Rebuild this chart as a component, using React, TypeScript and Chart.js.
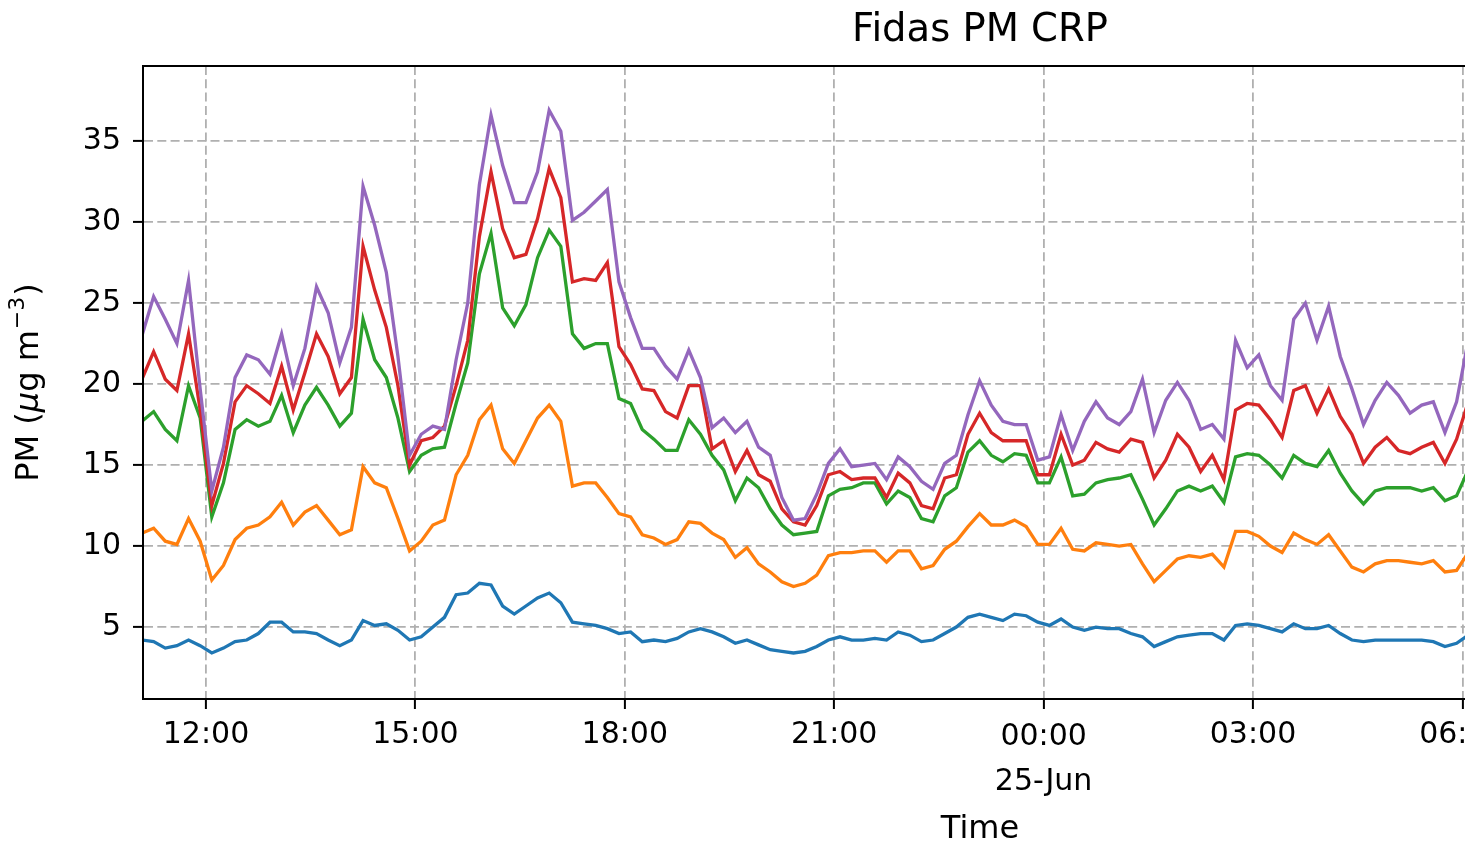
import React, { useEffect, useRef } from "react";
import { Chart, registerables } from "chart.js";

Chart.register(...registerables);

const FONT = "DejaVu Sans";

// Sample times: minutes relative to 12:00 on 24-Jun, every 10 minutes from 11:05
const START_MIN = -55;
const STEP_MIN = 10;

const PM1 = [
  4.2, 4.1, 3.7, 3.85, 4.2, 3.85, 3.4, 3.7, 4.1, 4.2, 4.6, 5.3, 5.3, 4.7, 4.7, 4.6, 4.2, 3.85, 4.2, 5.4,
  5.1, 5.2, 4.8, 4.2, 4.4, 5.0, 5.6, 7.0, 7.1, 7.7, 7.6, 6.3, 5.8, 6.3, 6.8, 7.1, 6.5, 5.3, 5.2,
  5.1, 4.9, 4.6, 4.7, 4.1, 4.2, 4.1, 4.3, 4.7, 4.9, 4.7, 4.4, 4.0, 4.2, 3.9, 3.6, 3.5, 3.4, 3.5,
  3.8, 4.2, 4.4, 4.2, 4.2, 4.3, 4.2, 4.7, 4.5, 4.1, 4.2, 4.6, 5.0, 5.6, 5.8, 5.6, 5.4, 5.8, 5.7,
  5.3, 5.1, 5.5, 5.0, 4.8, 5.0, 4.9, 4.9, 4.6, 4.4, 3.8, 4.1, 4.4, 4.5, 4.6, 4.6, 4.2, 5.1, 5.2,
  5.1, 4.9, 4.7, 5.2, 4.9, 4.9, 5.1, 4.6, 4.2, 4.1, 4.2, 4.2, 4.2, 4.2, 4.2, 4.1, 3.8, 4.0, 4.5,
];

const PM25 = [
  10.8, 11.1, 10.3, 10.1, 11.7, 10.3, 7.9, 8.8, 10.4, 11.1, 11.3, 11.8, 12.7, 11.3, 12.1, 12.5, 11.6, 10.7, 11.0, 14.9,
  13.9, 13.6, 11.7, 9.7, 10.3, 11.3, 11.6, 14.4, 15.6, 17.8, 18.7, 16.0, 15.1, 16.5, 17.9, 18.7, 17.7, 13.7, 13.9,
  13.9, 13.0, 12.0, 11.8, 10.7, 10.5, 10.1, 10.4, 11.5, 11.4, 10.8, 10.4, 9.3, 9.9, 8.9, 8.4, 7.8, 7.5, 7.7,
  8.2, 9.4, 9.6, 9.6, 9.7, 9.7, 9.0, 9.7, 9.7, 8.6, 8.8, 9.8, 10.3, 11.2, 12.0, 11.3, 11.3, 11.6, 11.2,
  10.1, 10.1, 11.1, 9.8, 9.7, 10.2, 10.1, 10.0, 10.1, 8.9, 7.8, 8.5, 9.2, 9.4, 9.3, 9.5, 8.7, 10.9, 10.9,
  10.6, 10.0, 9.6, 10.8, 10.4, 10.1, 10.7, 9.7, 8.7, 8.4, 8.9, 9.1, 9.1, 9.0, 8.9, 9.1, 8.4, 8.5, 9.6,
];

const PM4 = [
  17.7, 18.3, 17.2, 16.5, 19.9, 17.9, 11.8, 13.9, 17.2, 17.8, 17.4, 17.7, 19.3, 17.0, 18.7, 19.8, 18.7, 17.4, 18.2, 24.0,
  21.5, 20.4, 17.9, 14.6, 15.6, 16.0, 16.1, 18.8, 21.3, 26.8, 29.3, 24.7, 23.6, 24.9, 27.8, 29.5, 28.5, 23.1, 22.2,
  22.5, 22.5, 19.1, 18.8, 17.2, 16.6, 15.9, 15.9, 17.8, 16.9, 15.6, 14.7, 12.8, 14.2, 13.6, 12.3, 11.3, 10.7, 10.8,
  10.9, 13.1, 13.5, 13.6, 13.9, 13.9, 12.6, 13.4, 13.0, 11.7, 11.5, 13.1, 13.6, 15.8, 16.5, 15.6, 15.2, 15.7, 15.6,
  13.9, 13.9, 15.5, 13.1, 13.2, 13.9, 14.1, 14.2, 14.4, 12.9, 11.3, 12.3, 13.4, 13.7, 13.4, 13.7, 12.7, 15.5, 15.7,
  15.6, 15.0, 14.2, 15.6, 15.1, 14.9, 15.9, 14.5, 13.4, 12.6, 13.4, 13.6, 13.6, 13.6, 13.4, 13.6, 12.8, 13.1, 14.7,
];

const PM10 = [
  20.3, 22.0, 20.3, 19.6, 23.1, 18.4, 12.5, 15.1, 18.9, 19.9, 19.4, 18.8, 21.1, 18.4, 20.7, 23.1, 21.7, 19.4, 20.4, 28.5,
  25.8, 23.5, 19.9, 15.0, 16.5, 16.7, 17.4, 19.9, 22.7, 29.1, 33.1, 29.6, 27.8, 28.0, 30.2, 33.3, 31.5, 26.3, 26.5,
  26.4, 27.5, 22.3, 21.2, 19.7, 19.6, 18.3, 17.9, 19.9, 19.9, 16.0, 16.5, 14.6, 15.9, 14.4, 14.0, 12.3, 11.5, 11.3,
  12.5, 14.4, 14.6, 14.1, 14.2, 14.2, 13.0, 14.5, 13.9, 12.5, 12.3, 14.2, 14.4, 16.9, 18.2, 17.0, 16.5, 16.5, 16.5,
  14.4, 14.4, 16.9, 15.0, 15.3, 16.4, 16.0, 15.8, 16.6, 16.4, 14.2, 15.3, 16.9, 16.1, 14.6, 15.6, 14.1, 18.4, 18.8,
  18.7, 17.8, 16.7, 19.6, 19.9, 18.2, 19.7, 18.0, 16.9, 15.1, 16.1, 16.7, 15.9, 15.7, 16.1, 16.4, 15.1, 16.6, 18.9,
];

const PMTOT = [
  23.0, 25.4, 24.0, 22.5, 26.4, 19.7, 13.4, 16.1, 20.4, 21.8, 21.5, 20.6, 23.1, 19.9, 22.2, 26.0, 24.4, 21.3, 23.5, 32.2,
  29.8, 26.9, 21.7, 15.6, 16.9, 17.4, 17.2, 21.5, 25.0, 32.3, 36.6, 33.5, 31.2, 31.2, 33.1, 36.9, 35.6, 30.1, 30.6,
  31.3, 32.0, 26.3, 24.1, 22.2, 22.2, 21.1, 20.3, 22.1, 20.4, 17.3, 17.9, 17.0, 17.7, 16.1, 15.6, 13.0, 11.6, 11.7,
  13.2, 15.1, 16.0, 14.9, 15.0, 15.1, 14.1, 15.5, 14.9, 14.0, 13.5, 15.1, 15.6, 18.1, 20.2, 18.7, 17.7, 17.5, 17.5,
  15.3, 15.5, 18.1, 15.9, 17.7, 18.9, 17.9, 17.5, 18.3, 20.3, 17.0, 19.0, 20.1, 19.0, 17.2, 17.5, 16.6, 22.7, 21.0,
  21.8, 19.9, 19.0, 24.0, 25.0, 22.7, 24.8, 21.7, 19.7, 17.5, 19.0, 20.1, 19.3, 18.2, 18.7, 18.9, 17.0, 18.9, 22.7,
];

const SERIES_NAMES = ["PM1", "PM2.5", "PM4", "PM10", "PMtot"];
const SERIES_COLORS = ["#1f77b4", "#ff7f0e", "#2ca02c", "#d62728", "#9467bd"];

// hours relative to 12:00 on 24-Jun
const TICK_HOURS = [0, 3, 6, 9, 12, 15, 18, 21];
const TICK_LABELS: (string | string[])[] = [
  "12:00", "15:00", "18:00", "21:00", ["00:00", "25-Jun"], "03:00", "06:00", "09:00",
];
const Y_TICKS = [5, 10, 15, 20, 25, 30, 35];

const TITLE = "Fidas PM CRP";
const X_TITLE = "Time";
// y-axis title pieces: "PM (" + italic μ + "g m" + superscript "−3" + ")"
const Y_TITLE_PARTS = ["PM (", "μ", "g m", "−3", ")"];

const X_MIN = -0.9025;
const X_MAX = 23.08;
const Y_MIN = 0.56;
const Y_MAX = 39.63;

export default function App() {
  const ref = useRef<HTMLCanvasElement>(null);

  useEffect(() => {
    const canvas = ref.current;
    if (!canvas) return;
    const values = [PM1, PM25, PM4, PM10, PMTOT];
    const toPoints = (vals: number[]) =>
      vals.map((v, i) => ({ x: (START_MIN + STEP_MIN * i) / 60, y: v }));

    const frame = {
      id: "frame",
      afterDatasetsDraw(chart: any) {
        const { ctx, chartArea: a } = chart;
        ctx.save();
        ctx.strokeStyle = "#000";
        ctx.lineWidth = 2;
        ctx.strokeRect(a.left, a.top, a.right - a.left, a.bottom - a.top);
        ctx.restore();
      },
    };

    const yTitle = {
      id: "yTitle",
      afterDraw(chart: any) {
        const { ctx, chartArea: a } = chart;
        const base = `32px "${FONT}"`;
        const styles = [
          { font: base, dy: 0 },
          { font: `italic 32px "${FONT}"`, dy: 0 },
          { font: base, dy: 0 },
          { font: `22px "${FONT}"`, dy: -12 },
          { font: base, dy: 0 },
        ];
        ctx.save();
        const widths = Y_TITLE_PARTS.map((t, i) => {
          ctx.font = styles[i].font;
          return ctx.measureText(t).width + (i === 3 ? 2 : 0);
        });
        const total = widths.reduce((s, w) => s + w, 0);
        ctx.translate(30, (a.top + a.bottom) / 2);
        ctx.rotate(-Math.PI / 2);
        ctx.fillStyle = "#000";
        ctx.textBaseline = "middle";
        ctx.textAlign = "left";
        let x = -total / 2;
        Y_TITLE_PARTS.forEach((t, i) => {
          ctx.font = styles[i].font;
          ctx.fillText(t, x + (i === 3 ? 1 : 0), styles[i].dy);
          x += widths[i];
        });
        ctx.restore();
      },
    };

    const gridOpts = {
      color: "#b0b0b0",
      lineWidth: 1.8,
      tickLength: 10,
      tickColor: "#000",
      tickWidth: 2,
      tickBorderDash: [],
    };
    const borderOpts = { display: true, color: "#000", width: 2, dash: [9, 4.3] };

    const chart = new Chart(canvas, {
      type: "line",
      data: {
        datasets: values.map((vals, i) => ({
          label: SERIES_NAMES[i],
          data: toPoints(vals),
          borderColor: SERIES_COLORS[i],
          backgroundColor: SERIES_COLORS[i],
          borderWidth: 3.3,
          pointRadius: 0,
          tension: 0,
          fill: false,
          order: 5 - i,
        })),
      },
      options: {
        animation: false,
        responsive: false,
        devicePixelRatio: 1,
        layout: { padding: { left: 0, right: 143, top: 0, bottom: 0 } },
        plugins: {
          legend: { display: false },
          tooltip: { enabled: false },
          title: {
            display: true,
            fullSize: false,
            text: TITLE,
            color: "#000",
            font: { family: FONT, size: 38.5, weight: "normal", lineHeight: 1.2 },
            padding: { top: 7.9, bottom: 11.9 },
          },
        },
        scales: {
          x: {
            type: "linear",
            min: X_MIN,
            max: X_MAX,
            afterBuildTicks: (s: any) => {
              s.ticks = TICK_HOURS.map((v) => ({ value: v }));
            },
            afterFit: (s: any) => {
              s.height = 149;
            },
            ticks: {
              autoSkip: false,
              maxRotation: 0,
              minRotation: 0,
              color: "#000",
              padding: 5,
              font: (c: any) => ({
                family: FONT,
                size: 30,
                lineHeight: Array.isArray(TICK_LABELS[c.index]) ? 1.52 : 1.4,
              }),
              callback: (_v: any, i: number) => TICK_LABELS[i] ?? "",
            },
            grid: gridOpts,
            border: borderOpts,
            title: {
              display: true,
              text: X_TITLE,
              color: "#000",
              font: { family: FONT, size: 32, lineHeight: 1.15 },
              padding: { top: 0, bottom: 0 },
            },
          },
          y: {
            type: "linear",
            min: Y_MIN,
            max: Y_MAX,
            afterBuildTicks: (s: any) => {
              s.ticks = Y_TICKS.map((v) => ({ value: v }));
            },
            afterFit: (s: any) => {
              s.width = 143;
            },
            ticks: {
              color: "#000",
              padding: 12,
              font: { family: FONT, size: 30 },
              callback: (v: any) => String(v),
            },
            grid: gridOpts,
            border: borderOpts,
            title: { display: false },
          },
        },
      },
      plugins: [frame, yTitle],
    } as any);

    return () => chart.destroy();
  }, []);

  return (
    <div
      style={{
        position: "fixed",
        left: 0,
        top: 0,
        width: 1465,
        height: 848,
        overflow: "hidden",
        background: "#fff",
      }}
    >
      <canvas
        ref={ref}
        width={1960}
        height={848}
        style={{ display: "block", width: 1960, height: 848 }}
      />
    </div>
  );
}
